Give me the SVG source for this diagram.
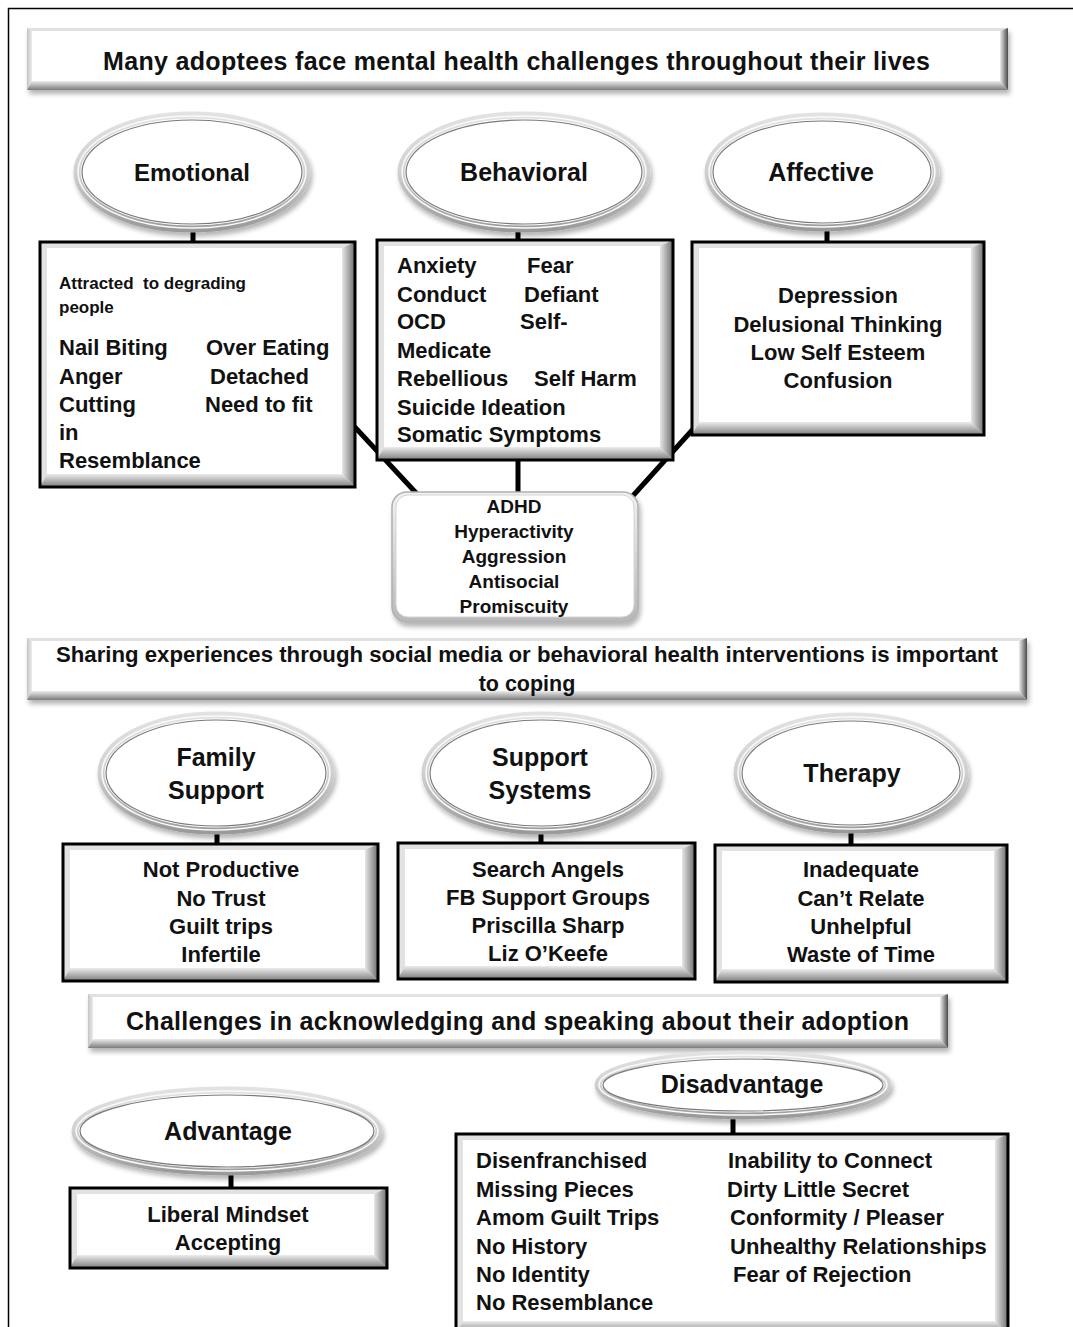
<svg xmlns="http://www.w3.org/2000/svg" width="1073" height="1327" viewBox="0 0 1073 1327">
<defs>
<style>
.t{font-family:"Liberation Sans",Arial,sans-serif;font-weight:bold;fill:#111}
.c{text-anchor:middle}
.f17{font-size:17px}.f19{font-size:19px}.f22{font-size:22px}.f25{font-size:25px}
.base{fill:#e2e2e2}
.bR{fill:url(#gR)}.bB{fill:url(#gB)}.bL{fill:url(#gL)}
.bnR{fill:url(#gBanR)}
.face{fill:#fff}
.border{fill:none;stroke:#000;stroke-width:3}
.ring{fill:#fff;stroke:url(#gRing);stroke-width:7}
.ringHi{fill:none;stroke:#fafafa;stroke-width:1.5}
.ringIn{fill:#fff;stroke:#7a7a7a;stroke-width:1.2}
.con{stroke:#000;stroke-width:5;fill:none}
</style>
<linearGradient id="gR" x1="0" y1="0" x2="1" y2="0"><stop offset="0" stop-color="#e6e6e6"/><stop offset="1" stop-color="#6e6e6e"/></linearGradient>
<linearGradient id="gB" x1="0" y1="0" x2="0" y2="1"><stop offset="0" stop-color="#ececec"/><stop offset="1" stop-color="#7c7c7c"/></linearGradient>
<linearGradient id="gL" x1="0" y1="0" x2="1" y2="0"><stop offset="0" stop-color="#c4c4c4"/><stop offset="1" stop-color="#ececec"/></linearGradient>
<linearGradient id="gBanR" x1="0" y1="0" x2="1" y2="0"><stop offset="0" stop-color="#eeeeee"/><stop offset="1" stop-color="#4a4a4a"/></linearGradient>
<linearGradient id="gRing" x1="0" y1="0" x2="0" y2="1"><stop offset="0" stop-color="#e2e2e2"/><stop offset="0.5" stop-color="#d0d0d0"/><stop offset="1" stop-color="#9a9a9a"/></linearGradient>
<linearGradient id="gSoft" x1="0" y1="0" x2="0" y2="1"><stop offset="0" stop-color="#f2f2f2"/><stop offset="1" stop-color="#b8b8b8"/></linearGradient>
<filter id="sh" x="-5%" y="-10%" width="115%" height="140%">
<feGaussianBlur in="SourceAlpha" stdDeviation="2.5"/>
<feOffset dx="2" dy="4"/>
<feComponentTransfer><feFuncA type="linear" slope="0.3"/></feComponentTransfer>
<feMerge><feMergeNode/><feMergeNode in="SourceGraphic"/></feMerge>
</filter>
</defs>
<rect x="0" y="0" width="1073" height="1327" fill="#fff"/>
<path d="M8.5,1327 V8.5 H1073" fill="none" stroke="#000" stroke-width="1.5"/>

<g id="connectors">
<line class="con" x1="193" y1="228" x2="193" y2="243"/>
<line class="con" x1="518" y1="228" x2="518" y2="241"/>
<line class="con" x1="827" y1="227" x2="827" y2="243"/>
<line class="con" x1="352" y1="424" x2="418" y2="495"/>
<line class="con" x1="695" y1="427" x2="630" y2="499"/>
<line class="con" x1="518" y1="458" x2="518" y2="494"/>
<line class="con" x1="217" y1="830" x2="217" y2="845"/>
<line class="con" x1="541" y1="829" x2="541" y2="844"/>
<line class="con" x1="851" y1="829" x2="851" y2="846"/>
<line class="con" x1="231" y1="1170" x2="231" y2="1189"/>
<line class="con" x1="733" y1="1114" x2="733" y2="1135"/>
</g>

<g id="banner1">
<rect class="base" x="27" y="28" width="981" height="62" filter="url(#sh)"/>
<polygon class="bL" points="27,28 32,31 32,81 27,90"/>
<polygon class="bnR" points="1008,28 1008,90 1000,81 1000,31"/>
<polygon class="bB" points="27,90 1008,90 1000,81 32,81"/>
<rect class="face" x="32" y="31" width="968" height="50"/>
<text class="t f25" x="103" y="70" textLength="827" lengthAdjust="spacing">Many adoptees face mental health challenges throughout their lives</text>
</g>

<g id="emotional">
<ellipse class="ring" cx="192" cy="172" rx="115" ry="57" filter="url(#sh)"/>
<ellipse class="ringHi" cx="192" cy="172" rx="114" ry="56"/>
<ellipse class="ringIn" cx="192" cy="172" rx="110" ry="52"/>
<text class="t c" style="font-size:24px" x="192" y="181">Emotional</text>
</g>
<g id="behavioral">
<ellipse class="ring" cx="524" cy="172" rx="123" ry="57" filter="url(#sh)"/>
<ellipse class="ringHi" cx="524" cy="172" rx="122" ry="56"/>
<ellipse class="ringIn" cx="524" cy="172" rx="118" ry="52"/>
<text class="t c f25" x="524" y="181">Behavioral</text>
</g>
<g id="affective">
<ellipse class="ring" cx="822" cy="172" rx="114" ry="56" filter="url(#sh)"/>
<ellipse class="ringHi" cx="822" cy="172" rx="113" ry="55"/>
<ellipse class="ringIn" cx="822" cy="172" rx="109" ry="51"/>
<text class="t c f25" x="821" y="181">Affective</text>
</g>

<g id="emotional-box">
<rect class="base" x="40" y="242" width="315" height="245"/>
<polygon class="bR" points="355,242 355,487 342,474 342,248"/>
<polygon class="bB" points="40,487 355,487 342,474 47,474"/>
<rect class="face" x="47" y="248" width="295" height="226"/>
<rect class="border" x="40" y="242" width="315" height="245"/>
<text class="t f17" x="59" y="289" xml:space="preserve">Attracted  to degrading</text>
<text class="t f17" x="59" y="313">people</text>
<text class="t f22" x="59" y="355">Nail Biting</text>
<text class="t f22" x="206" y="355">Over Eating</text>
<text class="t f22" x="59" y="384">Anger</text>
<text class="t f22" x="210" y="384">Detached</text>
<text class="t f22" x="59" y="412">Cutting</text>
<text class="t f22" x="205" y="412">Need to fit</text>
<text class="t f22" x="59" y="440">in</text>
<text class="t f22" x="59" y="468">Resemblance</text>
</g>

<g id="behavioral-box">
<rect class="base" x="377" y="240" width="296" height="220"/>
<polygon class="bR" points="673,240 673,460 660,447 660,246"/>
<polygon class="bB" points="377,460 673,460 660,447 384,447"/>
<rect class="face" x="384" y="246" width="276" height="201"/>
<rect class="border" x="377" y="240" width="296" height="220"/>
<text class="t f22" x="397" y="273">Anxiety</text>
<text class="t f22" x="527" y="273">Fear</text>
<text class="t f22" x="397" y="302">Conduct</text>
<text class="t f22" x="524" y="302">Defiant</text>
<text class="t f22" x="397" y="329">OCD</text>
<text class="t f22" x="520" y="329">Self-</text>
<text class="t f22" x="397" y="358">Medicate</text>
<text class="t f22" x="397" y="386">Rebellious</text>
<text class="t f22" x="534" y="386">Self Harm</text>
<text class="t f22" x="397" y="415">Suicide Ideation</text>
<text class="t f22" x="397" y="442">Somatic Symptoms</text>
</g>

<g id="affective-box">
<rect class="base" x="692" y="242" width="292" height="193"/>
<polygon class="bR" points="984,242 984,435 971,422 971,248"/>
<polygon class="bB" points="692,435 984,435 971,422 699,422"/>
<rect class="face" x="699" y="248" width="272" height="174"/>
<rect class="border" x="692" y="242" width="292" height="193"/>
<text class="t c f22" x="838" y="303">Depression</text>
<text class="t c f22" x="838" y="332">Delusional Thinking</text>
<text class="t c f22" x="838" y="360">Low Self Esteem</text>
<text class="t c f22" x="838" y="388">Confusion</text>
</g>

<g id="adhd-box">
<rect x="392" y="492" width="246" height="130" rx="15" fill="url(#gSoft)" stroke="#b0b0b0" stroke-width="1.5" filter="url(#sh)"/>
<rect x="396" y="495" width="238" height="122" rx="12" fill="#fff" stroke="#d4d4d4" stroke-width="1"/>
<text class="t c f19" x="514" y="513">ADHD</text>
<text class="t c f19" x="514" y="538">Hyperactivity</text>
<text class="t c f19" x="514" y="563">Aggression</text>
<text class="t c f19" x="514" y="588">Antisocial</text>
<text class="t c f19" x="514" y="613">Promiscuity</text>
</g>

<g id="banner2">
<rect class="base" x="27" y="638" width="1000" height="62" filter="url(#sh)"/>
<polygon class="bL" points="27,638 32,641 32,691 27,700"/>
<polygon class="bnR" points="1027,638 1027,700 1019,691 1019,641"/>
<polygon class="bB" points="27,700 1027,700 1019,691 32,691"/>
<rect class="face" x="32" y="641" width="987" height="50"/>
<text class="t" style="font-size:21.5px" x="56" y="662" textLength="942" lengthAdjust="spacingAndGlyphs">Sharing experiences through social media or behavioral health interventions is important</text>
<text class="t c" style="font-size:21.5px" x="527" y="691">to coping</text>
</g>

<g id="family-support">
<ellipse class="ring" cx="216" cy="773" rx="115" ry="58" filter="url(#sh)"/>
<ellipse class="ringHi" cx="216" cy="773" rx="114" ry="57"/>
<ellipse class="ringIn" cx="216" cy="773" rx="110" ry="53"/>
<text class="t c f25" x="216" y="766">Family</text>
<text class="t c f25" x="216" y="799">Support</text>
</g>
<g id="support-systems">
<ellipse class="ring" cx="541" cy="773" rx="116" ry="58" filter="url(#sh)"/>
<ellipse class="ringHi" cx="541" cy="773" rx="115" ry="57"/>
<ellipse class="ringIn" cx="541" cy="773" rx="111" ry="53"/>
<text class="t c f25" x="540" y="766">Support</text>
<text class="t c f25" x="540" y="799">Systems</text>
</g>
<g id="therapy">
<ellipse class="ring" cx="851" cy="773" rx="114" ry="57" filter="url(#sh)"/>
<ellipse class="ringHi" cx="851" cy="773" rx="113" ry="56"/>
<ellipse class="ringIn" cx="851" cy="773" rx="109" ry="52"/>
<text class="t c f25" x="852" y="782">Therapy</text>
</g>

<g id="family-box">
<rect class="base" x="63" y="844" width="315" height="137"/>
<polygon class="bR" points="378,844 378,981 365,968 365,850"/>
<polygon class="bB" points="63,981 378,981 365,968 70,968"/>
<rect class="face" x="70" y="850" width="295" height="118"/>
<rect class="border" x="63" y="844" width="315" height="137"/>
<text class="t c f22" x="221" y="877">Not Productive</text>
<text class="t c f22" x="221" y="906">No Trust</text>
<text class="t c f22" x="221" y="934">Guilt trips</text>
<text class="t c f22" x="221" y="962">Infertile</text>
</g>

<g id="support-box">
<rect class="base" x="398" y="843" width="297" height="136"/>
<polygon class="bR" points="695,843 695,979 682,966 682,849"/>
<polygon class="bB" points="398,979 695,979 682,966 405,966"/>
<rect class="face" x="405" y="849" width="277" height="117"/>
<rect class="border" x="398" y="843" width="297" height="136"/>
<text class="t c f22" x="548" y="877">Search Angels</text>
<text class="t c f22" x="548" y="905">FB Support Groups</text>
<text class="t c f22" x="548" y="933">Priscilla Sharp</text>
<text class="t c f22" x="548" y="961">Liz O’Keefe</text>
</g>

<g id="therapy-box">
<rect class="base" x="715" y="845" width="292" height="137"/>
<polygon class="bR" points="1007,845 1007,982 994,969 994,851"/>
<polygon class="bB" points="715,982 1007,982 994,969 722,969"/>
<rect class="face" x="722" y="851" width="272" height="118"/>
<rect class="border" x="715" y="845" width="292" height="137"/>
<text class="t c f22" x="861" y="877">Inadequate</text>
<text class="t c f22" x="861" y="906">Can’t Relate</text>
<text class="t c f22" x="861" y="934">Unhelpful</text>
<text class="t c f22" x="861" y="962">Waste of Time</text>
</g>

<g id="banner3">
<rect class="base" x="88" y="994" width="860" height="54" filter="url(#sh)"/>
<polygon class="bL" points="88,994 93,997 93,1039 88,1048"/>
<polygon class="bnR" points="948,994 948,1048 940,1039 940,997"/>
<polygon class="bB" points="88,1048 948,1048 940,1039 93,1039"/>
<rect class="face" x="93" y="997" width="847" height="42"/>
<text class="t f25" x="126" y="1030" textLength="783" lengthAdjust="spacing">Challenges in acknowledging and speaking about their adoption</text>
</g>

<g id="disadvantage">
<ellipse class="ring" cx="743" cy="1085" rx="145" ry="31" filter="url(#sh)"/>
<ellipse class="ringHi" cx="743" cy="1085" rx="144" ry="30"/>
<ellipse class="ringIn" cx="743" cy="1085" rx="140" ry="26"/>
<text class="t c f25" x="742" y="1093">Disadvantage</text>
</g>
<g id="advantage">
<ellipse class="ring" cx="227" cy="1131" rx="152" ry="41" filter="url(#sh)"/>
<ellipse class="ringHi" cx="227" cy="1131" rx="151" ry="40"/>
<ellipse class="ringIn" cx="227" cy="1131" rx="147" ry="36"/>
<text class="t c f25" x="228" y="1140">Advantage</text>
</g>

<g id="advantage-box">
<rect class="base" x="70" y="1188" width="317" height="80"/>
<polygon class="bR" points="387,1188 387,1268 374,1255 374,1194"/>
<polygon class="bB" points="70,1268 387,1268 374,1255 77,1255"/>
<rect class="face" x="77" y="1194" width="297" height="61"/>
<rect class="border" x="70" y="1188" width="317" height="80"/>
<text class="t c f22" x="228" y="1222">Liberal Mindset</text>
<text class="t c f22" x="228" y="1250">Accepting</text>
</g>

<g id="disadvantage-box">
<rect class="base" x="456" y="1134" width="552" height="200"/>
<polygon class="bR" points="1008,1134 1008,1334 995,1321 995,1140"/>
<polygon class="bB" points="456,1334 1008,1334 995,1321 463,1321"/>
<rect class="face" x="463" y="1140" width="532" height="181"/>
<rect class="border" x="456" y="1134" width="552" height="200"/>
<text class="t f22" x="476" y="1168">Disenfranchised</text>
<text class="t f22" x="476" y="1197">Missing Pieces</text>
<text class="t f22" x="476" y="1225">Amom Guilt Trips</text>
<text class="t f22" x="476" y="1254">No History</text>
<text class="t f22" x="476" y="1282">No Identity</text>
<text class="t f22" x="476" y="1310">No Resemblance</text>
<text class="t f22" x="728" y="1168">Inability to Connect</text>
<text class="t f22" x="727" y="1197">Dirty Little Secret</text>
<text class="t f22" x="730" y="1225">Conformity / Pleaser</text>
<text class="t f22" x="730" y="1254">Unhealthy Relationships</text>
<text class="t f22" x="733" y="1282">Fear of Rejection</text>
</g>
</svg>
